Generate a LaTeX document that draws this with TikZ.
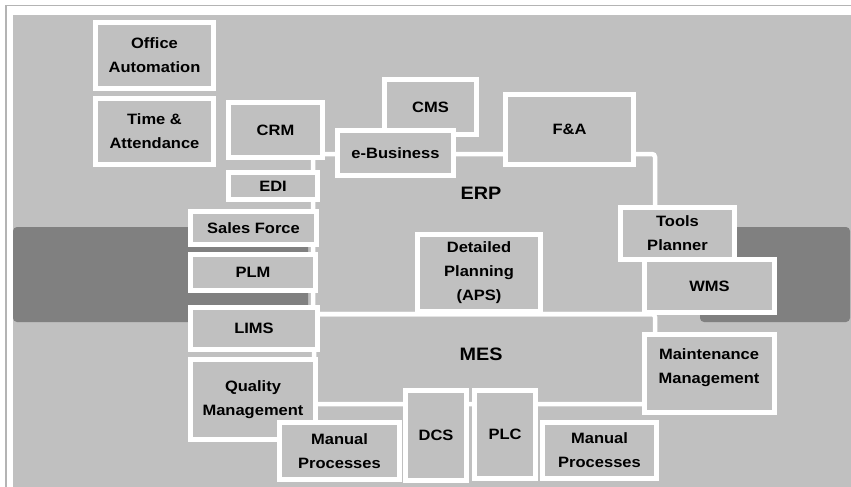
\documentclass[tikz,border=0pt]{standalone}
\usepackage{fontspec}
\setmainfont{Liberation Sans}[FakeStretch=1.1]
\definecolor{panel}{HTML}{C0C0C0}
\definecolor{band}{HTML}{808080}
\definecolor{frameline}{HTML}{B4B4B4}
\tikzset{
  boxtext/.style={inner sep=0pt, align=center, font=\fontsize{15}{24}\selectfont\bfseries},
  sysbox/.style={boxtext, draw=white, line width=5pt, fill=panel},
  region/.style={draw=white, line width=4.5pt, rounded corners=3pt},
  bandbox/.style={fill=band, rounded corners=4pt},
  biglabel/.style={font=\fontsize{18}{22}\selectfont\bfseries, inner sep=0pt}
}
% \sysnode{name}{x1}{y1}{x2}{y2}{text}: box given by its outer edges
\newcommand\sysnode[6]{%
  \node[sysbox, minimum width={#4-#2-5}, minimum height={#5-#3-5}]
    (#1) at ({(#2+#4)/2},{(#3+#5)/2}) {#6};}
\begin{document}
\begin{tikzpicture}[x=1pt, y=-1pt]
\useasboundingbox (0,0) rectangle (851,487);
% page frame and panel
\fill[white] (0,0) rectangle (851,487);
\draw[frameline, line width=1.2pt] (6,487) -- (6,5.5) -- (851,5.5);
\fill[panel] (13,15) rectangle (851,487);
% horizontal bands behind the boxes
\fill[bandbox] (13,227) rectangle (308,322);
\fill[bandbox] (700,227) rectangle (850,322);
% ERP and MES areas
\draw[region] (313,154) rectangle (655,314);
\draw[region] (314,314) rectangle (655,404);
% systems
\sysnode{office}{93}{20}{216}{91}{Office\\Automation}
\sysnode{time}{93}{96}{216}{167}{Time \&\\Attendance}
\sysnode{crm}{226}{100}{325}{160}{CRM}
\sysnode{edi}{226}{170}{320}{202}{EDI}
\sysnode{sales}{188}{209}{319}{247}{Sales Force}
\sysnode{plm}{188}{252}{318}{293}{PLM}
\sysnode{lims}{188}{305}{320}{352}{LIMS}
\sysnode{qm}{188}{357}{318}{442}{Quality\\Management}
\sysnode{manl}{277}{420}{402}{482}{Manual\\Processes}
\sysnode{dcs}{403}{388}{469}{483}{DCS}
\sysnode{plc}{472}{388}{538}{481}{PLC}
\sysnode{manr}{540}{420}{659}{481}{Manual\\Processes}
\sysnode{maint}{642}{332}{777}{415}{}
\node[boxtext] (maintlabel) at (709,367.5) {Maintenance\\Management};
\sysnode{wms}{642}{257}{777}{315}{WMS}
\sysnode{tools}{618}{205}{737}{262}{Tools\\Planner}
\sysnode{fa}{503}{92}{636}{167}{F\&A}
\sysnode{cms}{382}{77}{479}{137}{CMS}
\sysnode{ebiz}{335}{128}{456}{178}{e-Business}
\sysnode{aps}{415}{232}{543}{314}{Detailed\\Planning\\(APS)}
% area names
\node[biglabel] (erp) at (481,193) {ERP};
\node[biglabel] (mes) at (481,354) {MES};
\end{tikzpicture}
\end{document}
